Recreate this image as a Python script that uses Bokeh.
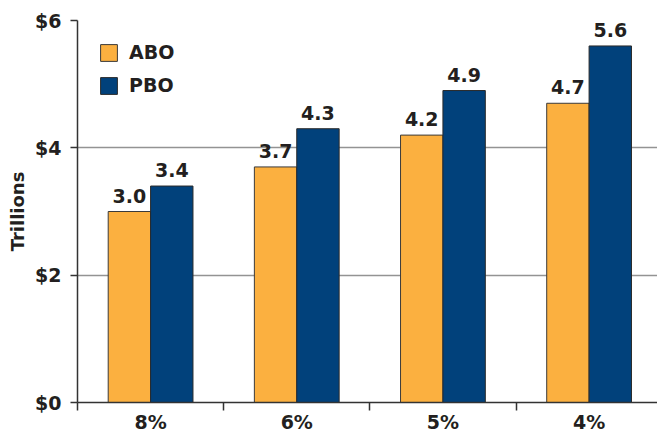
from bokeh.plotting import figure
from bokeh.models import Range1d, FixedTicker, ColumnDataSource, Legend, LabelSet
from bokeh.embed import file_html
from bokeh.resources import INLINE
from bokeh.core.properties import value

categories = ["8%", "6%", "5%", "4%"]
abo = [3.0, 3.7, 4.2, 4.7]
pbo = [3.4, 4.3, 4.9, 5.6]
y_ticks = [0, 2, 4, 6]
y_tick_labels = ["$0", "$2", "$4", "$6"]

ORANGE = "#FBB040"
BLUE = "#01417B"
TXT = "#231F20"
FONT = "DejaVu Sans"

centers = [i + 0.5 for i in range(len(categories))]
bw = 0.29
src = ColumnDataSource(dict(
    xa=[c - bw / 2 for c in centers],
    xp=[c + bw / 2 for c in centers],
    abo=abo, pbo=pbo,
    la=["%.1f" % v for v in abo],
    lp=["%.1f" % v for v in pbo],
))

p = figure(width=657, height=435, output_backend="svg", toolbar_location=None,
           x_range=Range1d(0, 3.968), y_range=Range1d(0, 6),
           min_border_left=77, min_border_right=0, min_border_top=20, min_border_bottom=32)
p.outline_line_color = None
p.background_fill_color = "white"
p.border_fill_color = "white"

ra = p.vbar(x="xa", top="abo", width=bw, source=src, fill_color=ORANGE,
            line_color="#3a3a3a", line_width=1)
rp = p.vbar(x="xp", top="pbo", width=bw, source=src, fill_color=BLUE,
            line_color="#2a2a2a", line_width=1)

for xcol, ycol, lcol in [("xa", "abo", "la"), ("xp", "pbo", "lp")]:
    p.add_layout(LabelSet(x=xcol, y=ycol, text=lcol, source=src, text_align="center",
                          text_baseline="bottom", y_offset=9, text_font=value(FONT),
                          text_font_style="bold", text_font_size="19px", text_color=TXT))

# y axis
p.yaxis.ticker = FixedTicker(ticks=y_ticks)
p.yaxis.major_label_overrides = {t: l for t, l in zip(y_ticks, y_tick_labels)}
p.yaxis.axis_label = "Trillions"
p.yaxis.axis_label_text_font = FONT
p.yaxis.axis_label_text_font_style = "bold"
p.yaxis.axis_label_text_font_size = "18px"
p.yaxis.axis_label_text_color = TXT
p.yaxis.axis_label_standoff = 4
p.yaxis.major_label_text_font = FONT
p.yaxis.major_label_text_font_style = "bold"
p.yaxis.major_label_text_font_size = "19px"
p.yaxis.major_label_text_color = TXT
p.yaxis.major_label_standoff = 9
p.yaxis.major_tick_out = 7
p.yaxis.major_tick_in = 0
p.yaxis.minor_tick_line_color = None
p.yaxis.axis_line_color = "#333333"
p.yaxis.axis_line_width = 1.5
p.yaxis.major_tick_line_color = "#333333"
p.yaxis.major_tick_line_width = 1.5

# x axis
p.xaxis.ticker = FixedTicker(ticks=centers, minor_ticks=[0, 1, 2, 3])
p.xaxis.major_label_overrides = {c: l for c, l in zip(centers, categories)}
p.xaxis.major_tick_out = 0
p.xaxis.major_tick_in = 0
p.xaxis.major_tick_line_color = None
p.xaxis.minor_tick_out = 8
p.xaxis.minor_tick_in = 0
p.xaxis.minor_tick_line_color = "#333333"
p.xaxis.minor_tick_line_width = 1.5
p.xaxis.axis_line_color = "#333333"
p.xaxis.axis_line_width = 1.5
p.xaxis.major_label_text_font = FONT
p.xaxis.major_label_text_font_style = "bold"
p.xaxis.major_label_text_font_size = "19px"
p.xaxis.major_label_text_color = TXT
p.xaxis.major_label_standoff = 0

p.xgrid.grid_line_color = None
p.ygrid.ticker = FixedTicker(ticks=[2, 4, 6])
p.ygrid.grid_line_color = "#939393"
p.ygrid.grid_line_width = 1.5

legend = Legend(items=[("ABO", [ra]), ("PBO", [rp])], location="top_left")
legend.border_line_color = None
legend.background_fill_alpha = 0
legend.margin = 21
legend.padding = 0
legend.glyph_width = 21
legend.glyph_height = 21
legend.label_standoff = 10
legend.spacing = 11
legend.label_text_font = FONT
legend.label_text_font_style = "bold"
legend.label_text_font_size = "19px"
legend.label_text_color = TXT
p.add_layout(legend)

open("out.html", "w").write(file_html(p, INLINE))
